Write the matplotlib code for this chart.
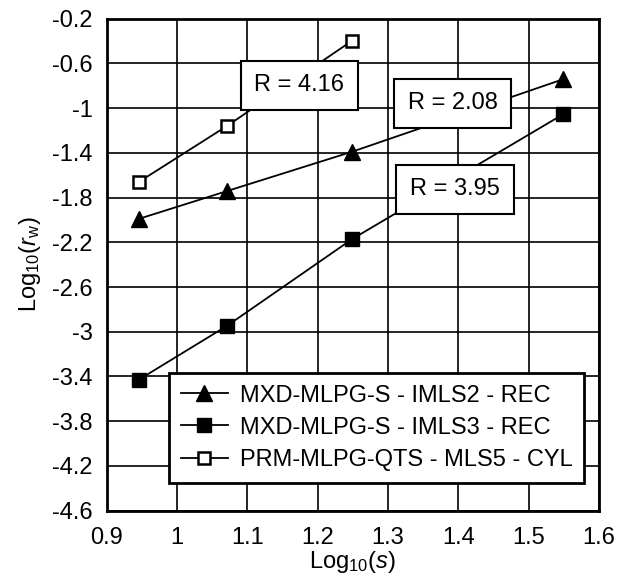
import numpy as np
import matplotlib.pyplot as plt

plt.rcParams['font.family'] = ['Liberation Sans', 'DejaVu Sans']
plt.rcParams['mathtext.fontset'] = 'custom'
plt.rcParams['mathtext.rm'] = 'Liberation Sans'
plt.rcParams['mathtext.it'] = 'Liberation Sans:italic'
plt.rcParams['axes.unicode_minus'] = False

# dane
log_s = [0.946, 1.071, 1.249, 1.549]
tri_y = [-1.99, -1.742, -1.39, -0.742]
sq_y = [-3.427, -2.947, -2.171, -1.055]
open_x = [0.946, 1.071, 1.249]
open_y = [-1.659, -1.16, -0.397]

labels = ['MXD-MLPG-S - IMLS2 - REC',
          'MXD-MLPG-S - IMLS3 - REC',
          'PRM-MLPG-QTS - MLS5 - CYL']

r_text = ['R = 4.16', 'R = 2.08', 'R = 3.95']
r_pos = [(1.174, -0.798), (1.392, -0.957), (1.395, -1.727)]

xticks = [0.9, 1, 1.1, 1.2, 1.3, 1.4, 1.5, 1.6]
yticks = [-0.2, -0.6, -1, -1.4, -1.8, -2.2, -2.6, -3, -3.4, -3.8, -4.2, -4.6]

fig = plt.figure(figsize=(6.17, 5.81), dpi=100)
ax = fig.add_axes([0.173, 0.121, 0.798, 0.847])

ax.plot(log_s, tri_y, 'k-', marker='^', markersize=12, lw=1.3, label=labels[0], zorder=3)
ax.plot(log_s, sq_y, 'k-', marker='s', markersize=10, lw=1.3, label=labels[1], zorder=3)
ax.plot(open_x, open_y, 'k-', marker='s', markersize=9, mfc='white', mew=1.8,
        lw=1.3, label=labels[2], zorder=3)

for t, (x, y) in zip(r_text, r_pos):
    ax.text(x, y, t, fontsize=17, ha='center', va='center', zorder=4,
            bbox=dict(boxstyle='square,pad=0.58', fc='white', ec='black', lw=1.5))

ax.set_xlim(0.9, 1.6)
ax.set_ylim(-4.6, -0.2)
ax.set_xticks(xticks)
ax.set_xticklabels(['0.9', '1', '1.1', '1.2', '1.3', '1.4', '1.5', '1.6'])
ax.set_yticks(yticks)
ax.set_yticklabels([str(v) for v in yticks])
ax.tick_params(length=0, labelsize=17)
ax.tick_params(axis='x', pad=12)
ax.tick_params(axis='y', pad=10)
ax.grid(True, color='black', lw=1.2)
ax.set_axisbelow(True)
for sp in ax.spines.values():
    sp.set_linewidth(2)

ax.set_xlabel('Log$_{10}$($\\it{s}$)', fontsize=17, labelpad=0)
ax.set_ylabel('Log$_{10}$($\\it{r}_{\\rm w}$)', fontsize=17, labelpad=7)

leg = ax.legend(loc='lower right', bbox_to_anchor=(0.9696, 0.057), borderaxespad=0,
                fontsize=17, fancybox=False, edgecolor='black', framealpha=1,
                handlelength=2.0, labelspacing=0.43, borderpad=0.5, handletextpad=0.5)
leg.get_frame().set_linewidth(2)
leg.set_zorder(5)

plt.savefig('out.png', dpi=100)
